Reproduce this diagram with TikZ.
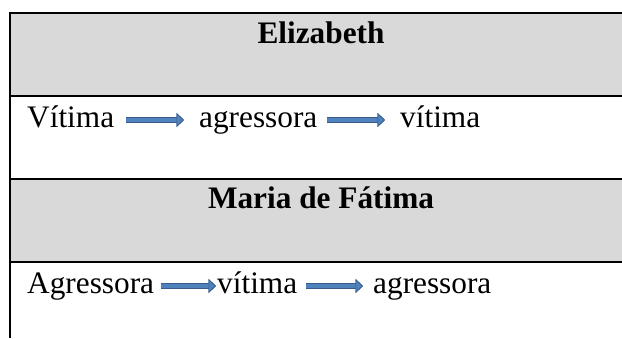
\documentclass[tikz,border=0pt]{standalone}
\usepackage{fontspec}
\setmainfont{Liberation Serif}
\usetikzlibrary{arrows.meta}
\definecolor{hdrgray}{HTML}{D9D9D9}
\definecolor{arrfill}{HTML}{4F81BD}
\definecolor{arredge}{HTML}{385D8A}
\begin{document}
\begin{tikzpicture}[x=1pt,y=-1pt,
  txt/.style={inner sep=0pt, anchor=base west, font=\fontsize{31.3}{36}\selectfont},
  hdr/.style={inner sep=0pt, anchor=base, font=\fontsize{31.3}{36}\selectfont\bfseries},
  rule/.style={line width=2pt, black},
  blockarrow/.style={draw=arrfill, line width=4.2pt,
    -{Triangle[length=7.5pt,width=14pt,fill=arrfill,color=arredge,line width=0.7pt]},
    preaction={draw=arredge, line width=5.6pt}}
]
\useasboundingbox (0,0) rectangle (622,338);
% header fills
\fill[hdrgray] (10,13) rectangle (622,96);
\fill[hdrgray] (10,179) rectangle (622,262);
% rules
\draw[rule] (10,13) -- (622,13);
\draw[rule] (10,96) -- (622,96);
\draw[rule] (10,179) -- (622,179);
\draw[rule] (10,262) -- (622,262);
\draw[rule] (10,12) -- (10,338);
% headers
\node[hdr] (h1) at (321,43) {Elizabeth};
\node[hdr] (h2) at (321,208) {Maria de Fátima};
% row 1
\node[txt] (a1) at (27,127) {Vítima};
\node[txt] (a2) at (199,127) {agressora};
\node[txt] (a3) at (400,127) {vítima};
% row 2
\node[txt] (b1) at (27,293) {Agressora};
\node[txt] (b2) at (217,293) {vítima};
\node[txt] (b3) at (373,293) {agressora};
% arrows
\draw[blockarrow, shorten <=12pt, shorten >=15pt] ([yshift=7pt]a1.base east) -- ([yshift=7pt]a2.base west);
\draw[blockarrow, shorten <=9pt, shorten >=15pt] ([yshift=7pt]a2.base east) -- ([yshift=7pt]a3.base west);
\draw[blockarrow, shorten <=7pt, shorten >=1pt] ([yshift=7pt]b1.base east) -- ([yshift=7pt]b2.base west);
\draw[blockarrow, shorten <=9pt, shorten >=10pt] ([yshift=7pt]b2.base east) -- ([yshift=7pt]b3.base west);
\end{tikzpicture}
\end{document}
